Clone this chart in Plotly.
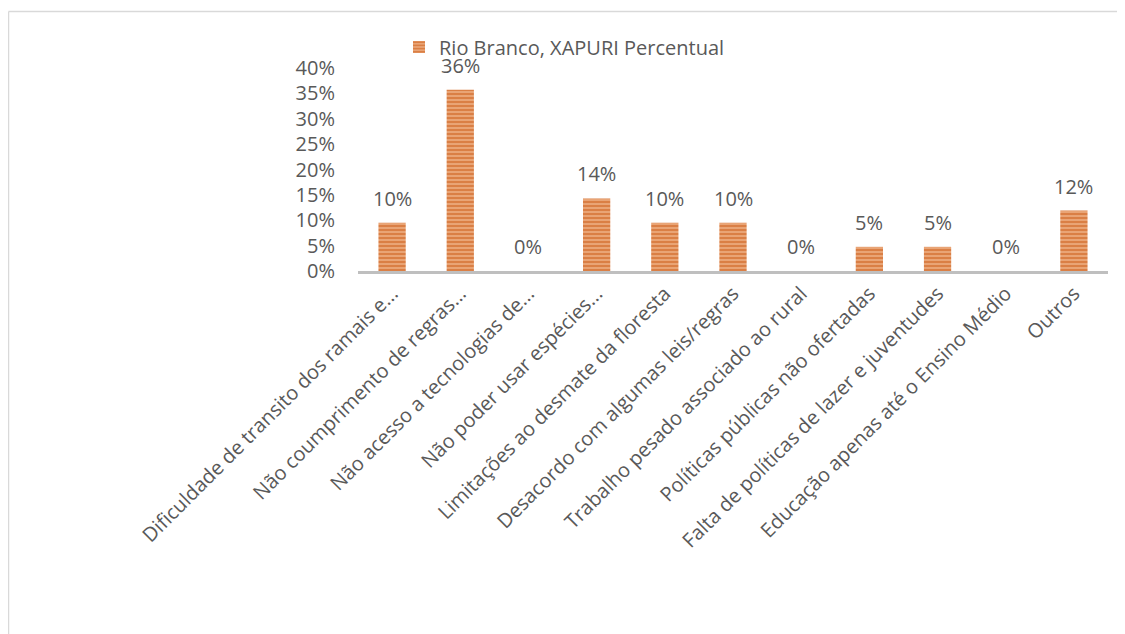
import plotly.graph_objects as go

categories = [
    "Dificuldade de transito dos ramais e...",
    "Não coumprimento de regras...",
    "Não acesso a tecnologias de...",
    "Não poder usar espécies...",
    "Limitações ao desmate da floresta",
    "Desacordo com algumas leis/regras",
    "Trabalho pesado associado ao rural",
    "Políticas públicas não ofertadas",
    "Falta de políticas de lazer e juventudes",
    "Educação apenas até o Ensino Médio",
    "Outros",
]
values = [0.0952, 0.3571, 0.0, 0.1429, 0.0952, 0.0952, 0.0, 0.0476, 0.0476, 0.0, 0.1190]
series_name = "Rio Branco, XAPURI Percentual"
y_ticks = [0, 0.05, 0.10, 0.15, 0.20, 0.25, 0.30, 0.35, 0.40]

FONT = "Open Sans"
TXT = "#595959"

fig = go.Figure()
fig.add_trace(go.Bar(
    x=categories, y=values, name=series_name,
    width=0.4,
    marker=dict(color="#EBA87A",
                line=dict(width=0),
                pattern=dict(shape="-", fgcolor="#C9560F", bgcolor="#EBA87A",
                             size=4, solidity=0.55)),
    showlegend=True,
))

annotations = [
    dict(x=c, y=v, text=f"{round(v*100):.0f}%", showarrow=False, xref="x", yref="y",
         yanchor="bottom", yshift=9, font=dict(family=FONT, size=20, color=TXT))
    for c, v in zip(categories, values)
]

OFF = 8  # page body margin
W, H = 1125 - OFF, 634 - OFF
L = 358 - OFF
T = 68 - OFF
R = W - (1108 - OFF)
B = H - (271 - OFF)
pw, ph = W - L - R, H - T - B

def px(x):
    return (x - OFF - L) / pw

def py(y):
    return (H - B - (y - OFF)) / ph

border = dict(color="#D9D9D9", width=1.5)
fig.update_layout(
    width=W, height=H,
    margin=dict(l=L, r=R, t=T, b=B, pad=0),
    paper_bgcolor="white", plot_bgcolor="white",
    font=dict(family=FONT, color=TXT, size=20),
    legend=dict(orientation="h", x=px(399), y=py(47), xanchor="left", yanchor="middle",
                font=dict(family=FONT, size=20, color=TXT), bgcolor="rgba(0,0,0,0)",
                itemwidth=30),
    annotations=annotations,
    shapes=[
        dict(type="line", xref="paper", yref="paper",
             x0=px(8.5), x1=px(1140), y0=py(11.5), y1=py(11.5), line=border, layer="below"),
        dict(type="line", xref="paper", yref="paper",
             x0=px(8.5), x1=px(8.5), y0=py(11.5), y1=py(660), line=border, layer="below"),
    ],
)
fig.update_xaxes(
    type="category", tickangle=-45, showgrid=False,
    showline=True, linecolor="#BFBFBF", linewidth=3,
    ticks="", tickfont=dict(family=FONT, size=20, color=TXT),
)
fig.update_yaxes(
    range=[0, 0.4], tickvals=y_ticks, tickformat=".0%",
    showgrid=False, zeroline=False, showline=False, ticks="",
    ticklabelstandoff=22,
    tickfont=dict(family=FONT, size=20, color=TXT),
)

fig.write_html("out.html")
